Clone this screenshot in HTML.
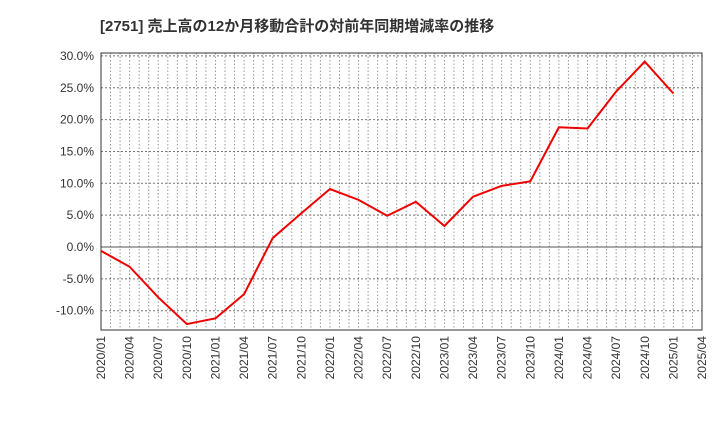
<!DOCTYPE html>
<html><head><meta charset="utf-8"><style>body{margin:0;background:#fff}svg{display:block}</style></head>
<body>
<svg id="c" width="720" height="440" xmlns="http://www.w3.org/2000/svg" font-family="'Liberation Sans','Noto Sans CJK JP',sans-serif">
<text x="100" y="31" font-size="15" font-weight="bold" fill="#333">[2751]  売上高の12か月移動合計の対前年同期増減率の推移</text>
<g id="grid"></g><g id="axes"></g><g id="series"></g>
</svg>
<script>
const categories=["2020/01","2020/04","2020/07","2020/10","2021/01","2021/04","2021/07","2021/10","2022/01","2022/04","2022/07","2022/10","2023/01","2023/04","2023/07","2023/10","2024/01","2024/04","2024/07","2024/10","2025/01"];
const values=[-0.6,-3.1,-7.9,-12.1,-11.2,-7.4,1.4,5.3,9.1,7.4,4.9,7.1,3.3,7.9,9.6,10.3,18.8,18.6,24.4,29.1,24.1];
const xLabels=["2020/01","2020/04","2020/07","2020/10","2021/01","2021/04","2021/07","2021/10","2022/01","2022/04","2022/07","2022/10","2023/01","2023/04","2023/07","2023/10","2024/01","2024/04","2024/07","2024/10","2025/01","2025/04"];
const yTicks=[30,25,20,15,10,5,0,-5,-10];
const NS="http://www.w3.org/2000/svg";
const L=101,R=702,T=53,B=330;
const qw=(R-L)/21;
const x=i=>L+i*qw;
const y=v=>247-v*6.37;
function mk(p,t,a){const e=document.createElementNS(NS,t);for(const k in a)e.setAttribute(k,a[k]);document.getElementById(p).appendChild(e);return e;}
for(let m=1;m<63;m++){const e=mk("grid","line",{x1:L+m*qw/3,x2:L+m*qw/3,y1:T,y2:B,stroke:"#999","stroke-dasharray":"1.5,2","stroke-width":1});

}
yTicks.forEach(v=>{const e=mk("grid","line",{x1:L,x2:R,y1:y(v),y2:y(v),stroke:v===0?"#555":"#777","stroke-dasharray":v===0?"none":"2,2","stroke-width":1});


const t=mk("axes","text",{x:L-7,y:y(v)+4,"text-anchor":"end","font-size":12,fill:"#333"});t.textContent=v.toFixed(1)+"%";

});
xLabels.forEach((s,i)=>{const t=mk("axes","text",{transform:"translate("+(x(i)+4)+",336) rotate(-90)","text-anchor":"end","font-size":12,fill:"#333"});t.textContent=s;

});
const f=mk("axes","rect",{x:L,y:T,width:R-L,height:B-T,fill:"none",stroke:"#333","stroke-width":1});


const p=mk("series","polyline",{points:values.map((v,i)=>x(i)+","+y(v)).join(" "),fill:"none",stroke:"#e00","stroke-width":2});


</script>
</body></html>
